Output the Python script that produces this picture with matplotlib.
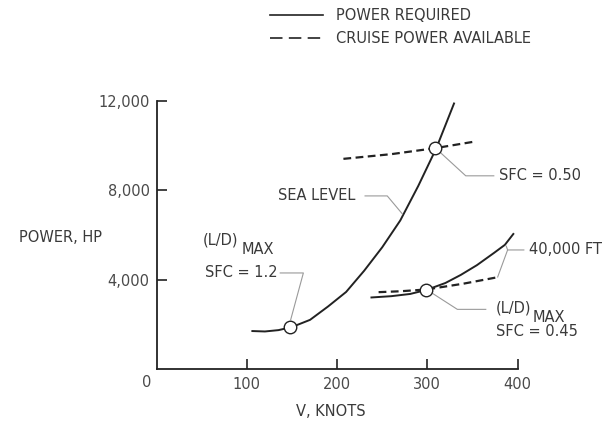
import matplotlib
matplotlib.use('Agg')
import matplotlib.pyplot as plt
from matplotlib.lines import Line2D

plt.rcParams.update({
    'font.family': 'DejaVu Sans',
    'font.size': 10.5,
    'text.color': '#3a3a3a',
    'axes.edgecolor': '#222222',
})

# Power required, sea level (knots, hp)
sea_v = [105, 120, 135, 150, 170, 190, 210, 230, 250, 270, 290, 310, 330]
sea_p = [1700, 1680, 1740, 1880, 2200, 2800, 3450, 4400, 5450, 6650, 8200, 9890, 11930]
# Cruise power available, sea level
sea_avail_v = [207, 260, 309, 352]
sea_avail_p = [9410, 9620, 9890, 10180]

# Power required, 40,000 ft
alt_v = [237, 260, 281, 299, 320, 337, 355, 374, 386, 396]
alt_p = [3200, 3260, 3360, 3540, 3850, 4210, 4650, 5200, 5560, 6080]
# Cruise power available, 40,000 ft
alt_avail_v = [246, 270, 299, 340, 378]
alt_avail_p = [3440, 3480, 3560, 3820, 4110]

# Marked points
pt_v = [148, 309, 299]
pt_p = [1860, 9890, 3540]

x_ticks = [100, 200, 300, 400]
y_ticks = [4000, 8000, 12000]
y_ticklabels = ['4,000', '8,000', '12,000']

LINE = '#222222'
LEAD = '#9a9a9a'

fig = plt.figure(figsize=(6.08, 4.23), dpi=100)
ax = fig.add_axes([0.2577, 0.1277, 0.5935, 0.6335])

ax.plot(sea_v, sea_p, color=LINE, lw=1.4, solid_capstyle='butt')
ax.plot(alt_v, alt_p, color=LINE, lw=1.4, solid_capstyle='butt')
ax.plot(sea_avail_v, sea_avail_p, color=LINE, lw=1.6, dashes=(3.5, 2))
ax.plot(alt_avail_v, alt_avail_p, color=LINE, lw=1.6, dashes=(3.5, 2))
ax.plot(pt_v, pt_p, 'o', ms=9, mfc='white', mec=LINE, mew=1.0, clip_on=False, zorder=5)

# leader lines
leaders = [
    [(137, 4300), (162.6, 4300), (148.5, 2200)],
    [(231, 7750), (255.6, 7750), (272.2, 6950)],
    [(314.8, 9680), (342.6, 8650), (373.7, 8650)],
    [(407, 5330), (389, 5330), (378, 4120)],
    [(389, 5330), (387.5, 5500)],
    [(305.6, 3390), (333.3, 2670), (364.8, 2670)],
]
for pts in leaders:
    ax.plot([p[0] for p in pts], [p[1] for p in pts], color=LEAD, lw=0.8, clip_on=False)

ax.text(51.5, 5780, '(L/D)', va='center')
ax.text(94.4, 5330, 'MAX', va='center')
ax.text(53.7, 4300, 'SFC = 1.2', va='center')
ax.text(220.3, 7750, 'SEA LEVEL', ha='right', va='center')
ax.text(379, 8650, 'SFC = 0.50', va='center')
ax.text(412.9, 5330, '40,000 FT', va='center', clip_on=False)
ax.text(375.9, 2720, '(L/D)', va='center')
ax.text(417, 2285, 'MAX', va='center')
ax.text(375.9, 1670, 'SFC = 0.45', va='center')

ax.set_xlim(0, 400)
ax.set_ylim(0, 12000)
ax.spines['top'].set_visible(False)
ax.spines['right'].set_visible(False)
ax.spines['left'].set_linewidth(1.3)
ax.spines['bottom'].set_linewidth(1.3)
ax.set_xticks(x_ticks)
ax.set_yticks(y_ticks)
ax.set_yticklabels(y_ticklabels)
ax.tick_params(direction='in', length=7, width=1.2, color=LINE, labelcolor='#4a4a4a',
               labelsize=10.5)
ax.tick_params(axis='x', pad=6)
ax.tick_params(axis='y', pad=5)
ax.text(-0.027, -0.052, '0', transform=ax.transAxes, ha='center', va='center',
        color='#4a4a4a')

ax.set_xlabel('V, KNOTS', color='#3a3a3a', va='center')
ax.xaxis.set_label_coords(0.483, -0.159)
ax.text(-0.1527, 0.489, 'POWER, HP', transform=ax.transAxes, ha='right', va='center')

handles = [Line2D([], [], color=LINE, lw=1.2),
           Line2D([], [], color=LINE, lw=1.2, dashes=(7.5, 3.8))]
fig.legend(handles, ['POWER REQUIRED', 'CRUISE POWER AVAILABLE'],
           loc='upper left', bbox_to_anchor=(0.435, 0.995), frameon=False,
           handlelength=3.6, handletextpad=0.9, labelspacing=0.55,
           borderaxespad=0, fontsize=10.5)

fig.savefig('out.png', dpi=100)
